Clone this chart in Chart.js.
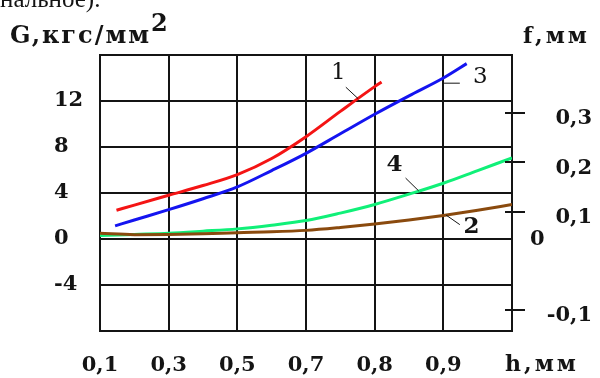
<!DOCTYPE html>
<html lang="ru">
<head>
<meta charset="UTF-8">
<title>G и f в зависимости от h</title>
<script src="https://cdn.jsdelivr.net/npm/chart.js@4.4.0/dist/chart.umd.min.js"></script>
<style>
  html, body { margin: 0; padding: 0; background: #fff; }
</style>
</head>
<body>
<canvas id="chart" width="600" height="378"></canvas>
<script>
// x runs over the grid columns: 0 -> h=0,1 ... 5 -> h=0,9, 6 -> right edge
const hLabels = ['0,1', '0,3', '0,5', '0,7', '0,8', '0,9'];
const gTicks = [-4, 0, 4, 8, 12];
const fTicks = [-0.1, 0.1, 0.2, 0.3];

const x1 = [0.24, 0.5, 1, 1.5, 2, 2.5, 3, 3.5, 4, 4.1];
const g1 = [2.5, 2.95, 3.8, 4.65, 5.6, 7.0, 8.9, 11.1, 13.25, 13.65];

const x3 = [0.22, 0.5, 1, 1.5, 2, 2.5, 3, 3.5, 4, 4.5, 5, 5.34];
const g3 = [1.14, 1.65, 2.55, 3.5, 4.53, 5.95, 7.45, 9.15, 10.85, 12.45, 14.0, 15.25];

const x4 = [0, 0.5, 1, 1.5, 2, 2.5, 3, 3.5, 4, 4.5, 5, 5.5, 6];
const g4 = [0.3, 0.4, 0.5, 0.68, 0.88, 1.2, 1.6, 2.25, 3.0, 3.9, 4.85, 5.95, 7.05];

const x2 = [0, 0.5, 1, 1.5, 2, 2.5, 3, 3.5, 4, 4.5, 5, 5.5, 6];
const g2 = [0.5, 0.38, 0.4, 0.45, 0.55, 0.62, 0.75, 1.0, 1.3, 1.65, 2.05, 2.5, 3.0];

// curve numbers with their leader lines, in data units
const curveNotes = [
  { text: '1', x: 3.47, y: 14.4, from: [3.58, 13.2], to: [3.76, 12.2], bold: false },
  { text: '3', x: 5.54, y: 14.1, from: [5.01, 13.55], to: [5.24, 13.55], bold: false },
  { text: '4', x: 4.29, y: 6.4, from: [4.45, 5.3], to: [4.64, 4.19], bold: true },
  { text: '2', x: 5.41, y: 1.08, from: [5.04, 2.08], to: [5.24, 1.25], bold: true }
];

const pageLine = 'нальное).';
const gTitle = 'G,кгс/мм';
const fTitle = 'f,мм';
const hTitle = 'h,мм';

const ink = '#141414';
const tickFont = { family: '"DejaVu Serif"', size: 21, weight: 'bold' };

function pts(xs, ys) {
  return xs.map((v, i) => ({ x: v, y: ys[i] }));
}

function line(data, color) {
  return {
    data: data,
    borderColor: color,
    borderWidth: 3,
    pointRadius: 0,
    fill: false,
    cubicInterpolationMode: 'monotone',
    yAxisID: 'y'
  };
}

const extras = {
  id: 'extras',
  afterDraw(chart) {
    const { ctx, chartArea, scales } = chart;
    const xs = scales.x, g = scales.y, f = scales.y2;
    ctx.save();
    ctx.fillStyle = ink;
    ctx.strokeStyle = ink;

    // inner half of the crossing ticks on the f axis
    ctx.lineWidth = 2;
    fTicks.forEach(v => {
      const py = Math.round(f.getPixelForValue(v));
      ctx.beginPath();
      ctx.moveTo(chartArea.right - 7, py);
      ctx.lineTo(chartArea.right, py);
      ctx.stroke();
    });

    // leftover line of the page above the figure
    ctx.textBaseline = 'alphabetic';
    ctx.textAlign = 'left';
    ctx.font = '25px "Liberation Serif"';
    ctx.fillText(pageLine, 0, 7);

    // axis titles
    ctx.font = 'bold 24px "DejaVu Serif"';
    ctx.letterSpacing = '2px';
    ctx.fillText(gTitle, 10, 43);
    const w = ctx.measureText(gTitle).width;
    ctx.fillText('2', 10 + w, 31);
    ctx.font = 'bold 22px "DejaVu Serif"';
    ctx.letterSpacing = '3px';
    ctx.fillText(fTitle, 523, 43);
    ctx.fillText(hTitle, 505, 371);
    ctx.letterSpacing = '0px';

    // the lone zero of the f axis sits level with G = 0
    ctx.font = 'bold 21px "DejaVu Serif"';
    ctx.textBaseline = 'middle';
    ctx.fillText('0', 530, g.getPixelForValue(0) + 1);

    // curve numbers
    ctx.textAlign = 'center';
    curveNotes.forEach(n => {
      ctx.font = (n.bold ? 'bold ' : '') + '23px "DejaVu Serif"';
      ctx.fillText(n.text, xs.getPixelForValue(n.x), g.getPixelForValue(n.y));
      ctx.lineWidth = 1;
      ctx.beginPath();
      ctx.moveTo(xs.getPixelForValue(n.from[0]), g.getPixelForValue(n.from[1]));
      ctx.lineTo(xs.getPixelForValue(n.to[0]), g.getPixelForValue(n.to[1]));
      ctx.stroke();
    });
    ctx.restore();
  }
};

new Chart(document.getElementById('chart'), {
  type: 'line',
  data: {
    datasets: [
      line(pts(x2, g2), '#8a4a0e'),
      line(pts(x4, g4), '#10f078'),
      line(pts(x3, g3), '#1414f0'),
      line(pts(x1, g1), '#f41414')
    ]
  },
  options: {
    responsive: false,
    animation: false,
    layout: { padding: { top: 55, left: 54, right: 8, bottom: 0 } },
    plugins: { legend: { display: false }, tooltip: { enabled: false } },
    scales: {
      x: {
        type: 'linear',
        min: 0,
        max: 6,
        afterBuildTicks: s => { s.ticks = [0, 1, 2, 3, 4, 5, 6].map(v => ({ value: v })); },
        afterFit: s => { s.height = 47; },
        ticks: {
          autoSkip: false,
          maxRotation: 0,
          padding: 22,
          color: ink,
          font: tickFont,
          callback: v => hLabels[v] || ''
        },
        grid: { color: ink, lineWidth: 2, drawTicks: false },
        border: { color: ink, width: 2 }
      },
      y: {
        position: 'left',
        min: -8,
        max: 16,
        afterFit: s => { s.width = 46; },
        ticks: {
          stepSize: 4,
          crossAlign: 'far',
          color: ink,
          font: tickFont,
          callback: v => gTicks.includes(v) ? String(v) : ''
        },
        grid: { color: ink, lineWidth: 2, drawTicks: false },
        border: { color: ink, width: 2 }
      },
      y2: {
        position: 'right',
        min: -0.1426,
        max: 0.4178,
        afterBuildTicks: s => { s.ticks = fTicks.map(v => ({ value: v })); },
        afterFit: s => { s.width = 80; },
        ticks: {
          crossAlign: 'far',
          labelOffset: 6,
          color: ink,
          font: tickFont,
          callback: v => String(v).replace('.', ',')
        },
        grid: { drawOnChartArea: false, color: ink, lineWidth: 2, tickLength: 13 },
        border: { color: ink, width: 2 }
      }
    }
  },
  plugins: [extras]
});
</script>
</body>
</html>
